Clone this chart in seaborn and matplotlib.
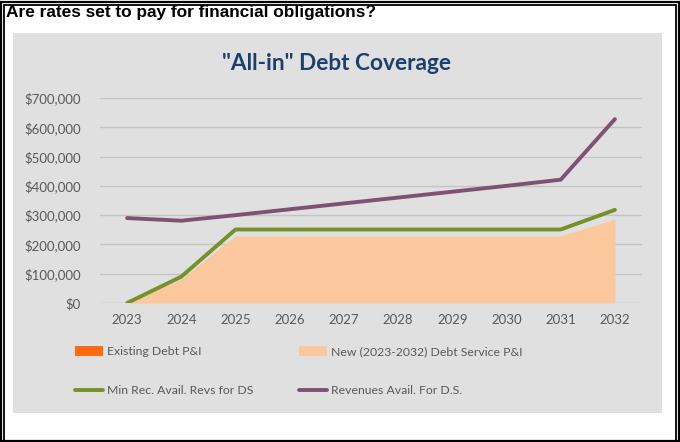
import matplotlib
matplotlib.use("Agg")
import matplotlib.pyplot as plt
from matplotlib.patches import Rectangle, Patch
from matplotlib.lines import Line2D
from matplotlib.ticker import FuncFormatter
import seaborn as sns
import pandas as pd
import numpy as np

years = [2023, 2024, 2025, 2026, 2027, 2028, 2029, 2030, 2031, 2032]
existing_debt = [0, 0, 0, 0, 0, 0, 0, 0, 0, 0]
new_debt = [0, 82000, 229000, 229000, 229000, 229000, 229000, 229000, 229000, 287000]
min_rec = [0, 90000, 251000, 251000, 251000, 251000, 251000, 251000, 251000, 318000]
revenues = [290000, 281000, 300000, 320000, 340000, 360000, 380000, 400000, 421000, 628000]
y_ticks = [0, 100000, 200000, 300000, 400000, 500000, 600000, 700000]

heading = "Are rates set to pay for financial obligations?"
title = '"All-in" Debt Coverage'
lab_exist = "Existing Debt P&I"
lab_new = "New (2023-2032) Debt Service P&I"
lab_min = "Min Rec. Avail. Revs for DS"
lab_rev = "Revenues Avail. For D.S."

c_exist = "#FF6A13"
c_new = "#FAC89C"
c_min = "#76902A"
c_rev = "#7E5275"
c_bg = "#E0E0E0"
c_txt = "#595959"

sns.set_theme(style="white")
plt.rcParams["font.family"] = ["Lato", "DejaVu Sans"]

W, H = 680, 442
fig = plt.figure(figsize=(6.8, 4.42), dpi=100)
fig.patch.set_facecolor("white")

def fx(px):
    return px / W

def fy(py):
    return 1 - py / H

def rect_px(x0, y0, x1, y1, lw, fill=False, color="black", z=0):
    r = Rectangle((fx(x0), fy(y1)), fx(x1) - fx(x0), fy(y0) - fy(y1),
                  transform=fig.transFigure, fill=fill, facecolor=color if fill else "none",
                  edgecolor="none" if fill else color, linewidth=lw, zorder=z)
    fig.add_artist(r)

rect_px(1, 1.5, 679, 440.5, 1.6)
rect_px(4, 5, 675.5, 440.5, 1.3)
rect_px(13, 33, 662, 413, 0, fill=True, color=c_bg, z=-1)

fig.text(fx(6), fy(13), heading, fontsize=12.45, fontweight="bold",
         family=["Liberation Sans", "DejaVu Sans"], color="black", va="center", ha="left")

ax = fig.add_axes([fx(100), fy(303), fx(642) - fx(100), fy(98) - fy(303)])
ax.set_facecolor(c_bg)
ax.patch.set_alpha(0)

df = pd.DataFrame({"year": years, "existing": existing_debt, "new": new_debt,
                   "min": min_rec, "rev": revenues})

ax.stackplot(df["year"], df["existing"], df["new"], colors=[c_exist, c_new],
             linewidth=0, zorder=2)
sns.lineplot(data=df, x="year", y="min", ax=ax, color=c_min, linewidth=2.8, zorder=3)
sns.lineplot(data=df, x="year", y="rev", ax=ax, color=c_rev, linewidth=2.8, zorder=3)

ax.set_xlim(years[0] - 0.5, years[-1] + 0.5)
ax.set_ylim(0, y_ticks[-1])
ax.set_yticks(y_ticks)
ax.set_xticks(years)
ax.set_xticklabels([str(y) for y in years])
ax.yaxis.set_major_formatter(FuncFormatter(lambda v, p: f"${v:,.0f}"))
ax.grid(axis="y", color="#C4C4C4", linewidth=1.0)
ax.set_axisbelow(True)
for s in ax.spines.values():
    s.set_visible(False)
ax.tick_params(axis="both", length=0, labelsize=9.5, colors=c_txt)
ax.tick_params(axis="y", pad=14)
ax.tick_params(axis="x", pad=8)
ax.set_xlabel("")
ax.set_ylabel("")

fig.text(fx(337), fy(63), title, fontsize=16.3, fontweight="bold", color="#1B3F6E",
         ha="center", va="center")

h_exist = Patch(facecolor=c_exist, edgecolor="none")
h_new = Patch(facecolor=c_new, edgecolor="none")
h_min = Line2D([], [], color=c_min, linewidth=2.8, solid_capstyle="round")
h_rev = Line2D([], [], color=c_rev, linewidth=2.8, solid_capstyle="round")

fs_leg = 8.8
common = dict(frameon=False, fontsize=fs_leg, labelcolor=c_txt, handlelength=2.3,
              handleheight=0.85, handletextpad=0.35, labelspacing=2.3,
              borderpad=0, borderaxespad=0, loc="upper left")
fig.legend([h_exist, h_min], [lab_exist, lab_min],
           bbox_to_anchor=(fx(75), fy(346)), **common)
fig.legend([h_new, h_rev], [lab_new, lab_rev],
           bbox_to_anchor=(fx(299), fy(346)), **common)

fig.savefig("out.png", dpi=100, facecolor="white")
